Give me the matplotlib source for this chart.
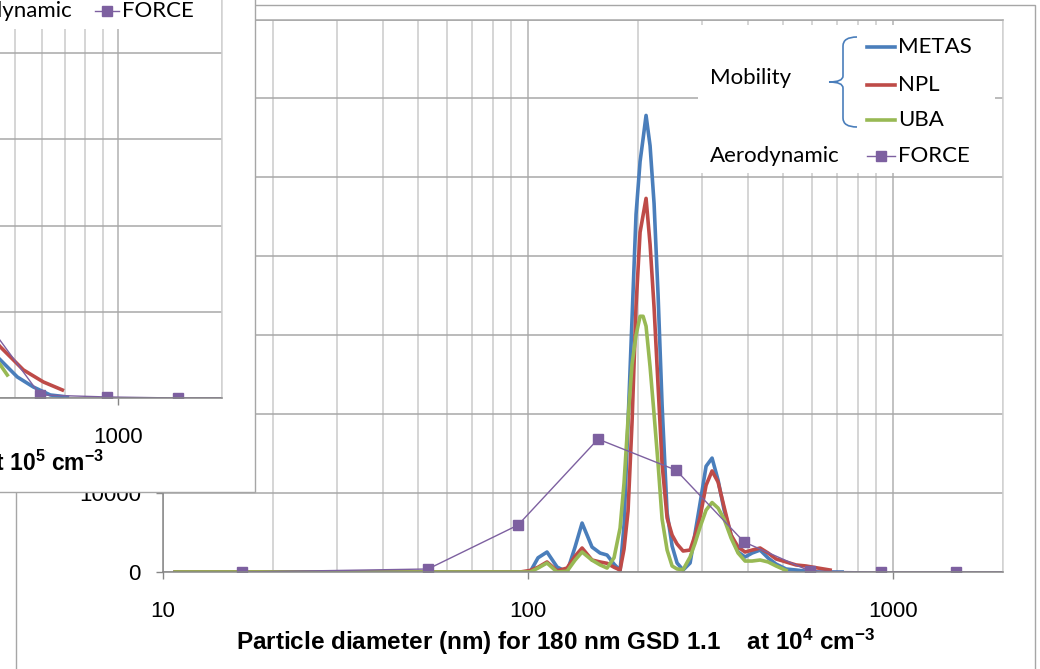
import numpy as np
import matplotlib
matplotlib.use('Agg')
import matplotlib.pyplot as plt
from matplotlib.patches import Rectangle, PathPatch
from matplotlib.path import Path
from matplotlib.lines import Line2D
from matplotlib.ticker import FixedLocator, LogLocator, FuncFormatter, MultipleLocator

# ---------------- data ----------------
# mobility size distributions (main chart, 10^4 cm^-3)
mob_d = [10.8, 95.1, 101.3, 106.5, 112.7, 120.1, 127.9, 134.5, 140.6, 149.7,
         157.5, 164.6, 172.0, 178.7, 183.2, 187.9, 192.7, 197.6, 202.7, 206.6,
         210.5, 215.9, 221.4, 227.1, 232.9, 240.4, 248.1, 256.0, 265.9, 277.9,
         286.8, 296.0, 307.4, 319.2, 331.5, 344.4, 359.9, 376.2, 393.1, 410.9,
         432.2, 454.6, 478.1, 509.2, 542.3, 577.5, 622.9, 672.0, 725.1, 787.0]
metas = [0, 0, 0, 1800, 2530, 630, 0, 3160, 6200, 3160,
         2400, 2150, 1000, 200, 5950, 18990, 32150, 45300, 52000, 54900,
         57850, 54000, 46700, 35060, 21140, 7470, 3290, 1140, 250, 1140,
         4940, 8730, 13400, 14430, 11650, 7850, 4680, 2530, 1900, 2400,
         2780, 1770, 1000, 380, 250, 100, 0, 0, 0, np.nan]
npl = [0, 0, 200, 600, 1270, 150, 500, 2000, 3040, 1520,
       1270, 1100, 600, 250, 2900, 7720, 18990, 33670, 43040, 45200,
       47340, 41520, 33540, 23540, 13670, 6840, 4680, 3540, 2660, 2780,
       4680, 6960, 11000, 12800, 11400, 8230, 4680, 3160, 2530, 2780,
       3040, 2400, 1650, 1270, 890, 760, 500, 250, np.nan, np.nan]
uba = [0, 0, 0, 500, 1140, 0, 100, 1500, 2530, 1500,
       900, 500, 1800, 5570, 11270, 19370, 26330, 30000, 32400, 32400,
       31140, 26000, 20000, 13670, 6710, 2780, 760, 380, 300, 1900,
       3670, 5700, 7850, 8800, 8100, 6710, 4300, 2400, 1390, 1390,
       1520, 1270, 760, 200, np.nan, np.nan, np.nan, np.nan, np.nan, np.nan]
# aerodynamic (FORCE)
force_d = [16.46, 53.2, 93.9, 155.5, 254.4, 390.7, 592.6, 927, 1488, 2500]
force_v = [0, 380, 5950, 16840, 12900, 3800, 100, 0, 0, 0]

# overlapping chart (10^5 cm^-3), only its right part is visible
ins_metas_d = [400, 454, 508.6, 566, 634, 711]
ins_metas_v = [66000, 44200, 24400, 12800, 3500, 1200]
ins_npl_d = [400, 454, 529.6, 605.4, 687.5]
ins_npl_v = [84000, 59300, 32600, 18600, 9300]
ins_uba_d = [400, 454, 475.6]
ins_uba_v = [68000, 38400, 26700]
ins_force_d = [390.7, 592.6, 927, 1488, 2500]
ins_force_v = [102000, 3500, 1200, 0, 0]

x_major = [10, 100, 1000]
main_label = 'Particle diameter (nm) for 180 nm GSD 1.1    at 10$^{4}$ cm$^{-3}$'
ins_label = 'Particle diameter (nm) for 180 nm GSD 1.1    at 10$^{5}$ cm$^{-3}$'

C_METAS = '#4A7EBB'
C_NPL = '#BE4B48'
C_UBA = '#98B954'
C_FORCE = '#7D60A0'

# ---------------- style ----------------
plt.rcParams['font.family'] = ['Liberation Sans', 'DejaVu Sans']
plt.rcParams['mathtext.fontset'] = 'custom'
plt.rcParams['mathtext.rm'] = 'Liberation Sans'
plt.rcParams['mathtext.bf'] = 'Liberation Sans:bold'
plt.rcParams['mathtext.it'] = 'Liberation Sans:italic'
plt.rcParams['mathtext.default'] = 'bf'

W, H = 1040, 669
fig = plt.figure(figsize=(W / 100, H / 100), dpi=100)


def fx(px):
    return px / W


def fy(py):
    return 1 - py / H


GRID_V = '#D2D2D2'
GRID_VM = '#BDBDBD'
GRID_H = '#A8A8A8'
AXC = '#868686'
TICK_FS = 16
XLAB_FS = 17.5


def style_axes(ax, ymax, ystep):
    ax.set_xscale('log')
    ax.set_xlim(10, 2000)
    ax.set_ylim(0, ymax)
    ax.xaxis.set_major_locator(FixedLocator(x_major))
    ax.xaxis.set_minor_locator(LogLocator(base=10, subs=range(2, 10)))
    ax.xaxis.set_major_formatter(FuncFormatter(lambda v, p: f'{v:g}'))
    ax.xaxis.set_minor_formatter(FuncFormatter(lambda v, p: ''))
    ax.yaxis.set_major_locator(MultipleLocator(ystep))
    ax.yaxis.set_major_formatter(FuncFormatter(lambda v, p: f'{v:.0f}'))
    ax.grid(axis='x', which='minor', color=GRID_V, lw=1.3)
    ax.grid(axis='x', which='major', color=GRID_VM, lw=1.3)
    ax.grid(axis='y', which='major', color=GRID_H, lw=1.1)
    ax.set_axisbelow(True)
    ax.tick_params(which='minor', length=0)
    ax.tick_params(axis='both', which='major', direction='out', length=5,
                   color=AXC, labelsize=TICK_FS, labelcolor='black', width=1)
    ax.tick_params(axis='x', pad=16)
    ax.tick_params(axis='y', pad=11)
    ax.spines['left'].set_color(AXC)
    ax.spines['bottom'].set_color(AXC)
    ax.spines['top'].set_color(GRID_H)
    ax.spines['right'].set_color(GRID_V)
    for s in ax.spines.values():
        s.set_linewidth(1.1)


# ---------------- main chart ----------------
ax = fig.add_axes([fx(163), fy(572), fx(1003) - fx(163), fy(19.5) - fy(572)], zorder=0)
style_axes(ax, 70000, 10000)
lw_m = 2.6
ax.plot(mob_d, metas, color=C_METAS, lw=lw_m, solid_joinstyle='round')
ax.plot(mob_d, npl, color=C_NPL, lw=lw_m, solid_joinstyle='round')
ax.plot(mob_d, uba, color=C_UBA, lw=lw_m, solid_joinstyle='round')
ax.plot(force_d, force_v, color=C_FORCE, lw=1.0, marker='s', ms=7.5,
        mfc=C_FORCE, mec=C_FORCE)

fig.text(fx(556), fy(650), main_label, ha='center', va='baseline',
         fontsize=XLAB_FS, fontweight='bold')

# outer frame of main chart
fig.add_artist(Rectangle((fx(16), fy(700)), fx(1035) - fx(16), fy(5) - fy(700),
                         transform=fig.transFigure, fill=False, ec='#A6A6A6',
                         lw=1, zorder=1))

# main legend
fig.add_artist(Rectangle((fx(698), fy(173)), fx(995) - fx(698), fy(25) - fy(173),
                         transform=fig.transFigure, fc='white', ec='none', zorder=2))
LEG_FONT = ['Lato', 'DejaVu Sans']
LFS = 16
fig.text(fx(710), fy(78), 'Mobility', ha='left', va='center', fontsize=LFS,
         family=LEG_FONT, zorder=3)
fig.text(fx(710), fy(156), 'Aerodynamic', ha='left', va='center', fontsize=LFS,
         family=LEG_FONT, zorder=3)
for yy, col, name in [(47, C_METAS, 'METAS'), (85, C_NPL, 'NPL'), (120, C_UBA, 'UBA')]:
    fig.add_artist(Line2D([fx(867), fx(895)], [fy(yy), fy(yy)], color=col, lw=lw_m,
                          transform=fig.transFigure, zorder=3))
    fig.text(fx(898), fy(yy), name, ha='left', va='center', fontsize=LFS,
             family=LEG_FONT, zorder=3)
fig.add_artist(Line2D([fx(867), fx(895)], [fy(156), fy(156)], color=C_FORCE, lw=1.0,
                      transform=fig.transFigure, zorder=3))
fig.add_artist(Line2D([fx(881)], [fy(156)], color=C_FORCE, marker='s', ms=7.5,
                      mfc=C_FORCE, mec=C_FORCE, transform=fig.transFigure, zorder=3))
fig.text(fx(898), fy(156), 'FORCE', ha='left', va='center', fontsize=LFS,
         family=LEG_FONT, zorder=3)
# brace
bp = [(857, 37), (843, 37), (843, 46), (843, 76), (843, 82), (829, 82),
      (843, 82), (843, 88), (843, 118), (843, 127), (857, 127)]
bcodes = [Path.MOVETO, Path.CURVE3, Path.CURVE3, Path.LINETO, Path.CURVE3, Path.CURVE3,
          Path.CURVE3, Path.CURVE3, Path.LINETO, Path.CURVE3, Path.CURVE3]
brace = Path([(fx(a), fy(b)) for a, b in bp], bcodes)
fig.add_artist(PathPatch(brace, transform=fig.transFigure, fill=False,
                         ec=C_METAS, lw=1.2, zorder=3))

# ---------------- overlapping chart (upper left) ----------------
fig.add_artist(Rectangle((fx(-5), fy(492)), fx(255) - fx(-5), fy(-5) - fy(492),
                         transform=fig.transFigure, fc='white', ec='#A6A6A6',
                         lw=1, zorder=5))
iax = fig.add_axes([fx(-570), fy(398), fx(222) - fx(-570), fy(-33) - fy(398)], zorder=6)
style_axes(iax, 500000, 100000)
iax.plot(ins_metas_d, ins_metas_v, color=C_METAS, lw=lw_m, solid_joinstyle='round')
iax.plot(ins_npl_d, ins_npl_v, color=C_NPL, lw=lw_m, solid_joinstyle='round')
iax.plot(ins_uba_d, ins_uba_v, color=C_UBA, lw=lw_m, solid_joinstyle='round')
iax.plot(ins_force_d, ins_force_v, color=C_FORCE, lw=1.0, marker='s', ms=7.5,
         mfc=C_FORCE, mec=C_FORCE)

fig.text(fx(104), fy(471), ins_label, ha='right', va='baseline', fontsize=16.5,
         fontweight='bold', zorder=8)
# its legend (partially visible)
fig.add_artist(Rectangle((fx(-5), fy(29)), fx(205) - fx(-5), fy(-5) - fy(29),
                         transform=fig.transFigure, fc='white', ec='none', zorder=7))
fig.text(fx(73), fy(11), 'Aerodynamic', ha='right', va='center', fontsize=LFS,
         family=LEG_FONT, zorder=8)
fig.add_artist(Line2D([fx(95), fx(119)], [fy(11), fy(11)], color=C_FORCE, lw=1.0,
                      transform=fig.transFigure, zorder=8))
fig.add_artist(Line2D([fx(107)], [fy(11)], color=C_FORCE, marker='s', ms=7.5,
                      mfc=C_FORCE, mec=C_FORCE, transform=fig.transFigure, zorder=8))
fig.text(fx(122), fy(11), 'FORCE', ha='left', va='center', fontsize=LFS,
         family=LEG_FONT, zorder=8)

fig.savefig('out.png', dpi=100)
